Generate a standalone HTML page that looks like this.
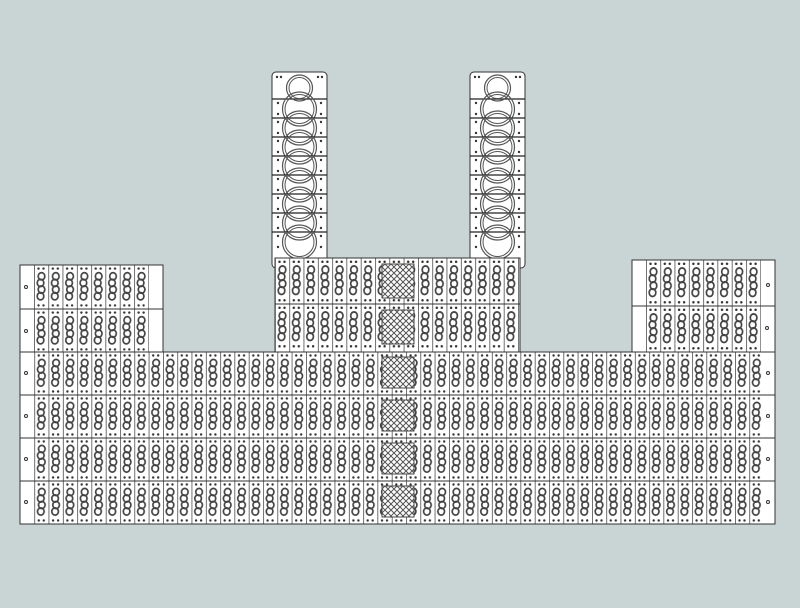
<!DOCTYPE html>
<html><head><meta charset="utf-8"><style>html,body{margin:0;padding:0;background:#c9d4d4;}svg{display:block}</style></head>
<body>
<svg width="800" height="608" viewBox="0 0 800 608" xmlns="http://www.w3.org/2000/svg">
<defs>
  <g id="cell">
    <line x1="0.3" y1="0" x2="0.3" y2="43" stroke="#333" stroke-width="0.8"/>
    <g fill="none" stroke="#444" stroke-width="1.7">
      <ellipse cx="7.5" cy="11" rx="3.3" ry="3.6"/>
      <ellipse cx="6.5" cy="17.5" rx="3.3" ry="3.6"/>
      <ellipse cx="7.5" cy="24" rx="3.3" ry="3.6"/>
      <ellipse cx="6.5" cy="30.5" rx="3.3" ry="3.6"/>
    </g>
    <g fill="#333"><circle cx="4.5" cy="3.5" r="1.2"/><circle cx="9.5" cy="3.5" r="1.2"/><circle cx="4.5" cy="39.5" r="1.2"/><circle cx="9.5" cy="39.5" r="1.2"/></g>
  </g>
  <pattern id="pm" patternUnits="userSpaceOnUse" x="20" y="352" width="14.3" height="43" viewBox="0 0 14.3 43"><use href="#cell"/></pattern>
  <pattern id="pl" patternUnits="userSpaceOnUse" x="34" y="265" width="14.3" height="44" viewBox="0 0 14.3 43" preserveAspectRatio="none"><use href="#cell"/></pattern>
  <pattern id="pc" patternUnits="userSpaceOnUse" x="275" y="258" width="14.3" height="46" viewBox="0 0 14.3 43" preserveAspectRatio="none"><use href="#cell"/></pattern>
  <pattern id="pr" patternUnits="userSpaceOnUse" x="646" y="260" width="14.3" height="46" viewBox="0 0 14.3 43" preserveAspectRatio="none"><use href="#cell"/></pattern>
  <pattern id="lat" patternUnits="userSpaceOnUse" x="385" y="0" width="6" height="6">
    <rect width="6" height="6" fill="#fff"/>
    <path d="M0 0L6 6M6 0L0 6" stroke="#555" stroke-width="1"/>
  </pattern>
  <g id="ring">
    <line x1="0" y1="0" x2="55" y2="0" stroke="#222" stroke-width="1.2"/>
    <circle cx="27.5" cy="10" r="17" fill="none" stroke="#555" stroke-width="1.2"/>
    <circle cx="27.5" cy="10" r="14.5" fill="none" stroke="#555" stroke-width="1"/>
    <circle cx="6" cy="4" r="1.2" fill="#333"/><circle cx="49" cy="4" r="1.2" fill="#333"/>
    <circle cx="6" cy="15" r="1.2" fill="#333"/><circle cx="49" cy="15" r="1.2" fill="#333"/>
  </g>
  <g id="strip">
    <rect x="0" y="0" width="55" height="196" rx="4" fill="#fff" stroke="#333" stroke-width="1"/>
    <g fill="#333"><circle cx="5" cy="5" r="1.2"/><circle cx="9" cy="5" r="1.2"/><circle cx="46" cy="5" r="1.2"/><circle cx="50" cy="5" r="1.2"/>
    <circle cx="17" cy="190" r="1.2"/><circle cx="21" cy="190" r="1.2"/><circle cx="34" cy="190" r="1.2"/><circle cx="38" cy="190" r="1.2"/></g>
    <use href="#ring" transform="translate(0,27)"/>
    <use href="#ring" transform="translate(0,46)"/>
    <use href="#ring" transform="translate(0,65)"/>
    <use href="#ring" transform="translate(0,84)"/>
    <use href="#ring" transform="translate(0,103)"/>
    <use href="#ring" transform="translate(0,122)"/>
    <use href="#ring" transform="translate(0,141)"/>
    <use href="#ring" transform="translate(0,160)"/>
    <circle cx="27.5" cy="16" r="13" fill="none" stroke="#555" stroke-width="1.2"/>
    <circle cx="27.5" cy="16" r="10.5" fill="none" stroke="#555" stroke-width="1"/>
  </g>
</defs>
<rect width="800" height="608" fill="#c9d4d4"/>

<use href="#strip" transform="translate(272,72)"/>
<use href="#strip" transform="translate(470,72)"/>

<rect x="20" y="265" width="143" height="88" fill="#fff" stroke="#333"/>
<rect x="34" y="265" width="115" height="88" fill="url(#pl)"/>
<line x1="20" y1="309" x2="163" y2="309" stroke="#333"/>
<circle cx="26" cy="287" r="1.5" fill="none" stroke="#333"/><circle cx="26" cy="331" r="1.5" fill="none" stroke="#333"/>

<rect x="275" y="258" width="245" height="94" fill="#fff" stroke="#333"/>
<rect x="275" y="258" width="245" height="94" fill="url(#pc)"/>
<line x1="275" y1="304" x2="520" y2="304" stroke="#333"/>

<rect x="632" y="260" width="143" height="92" fill="#fff" stroke="#333"/>
<rect x="646" y="260" width="115" height="92" fill="url(#pr)"/>
<line x1="632" y1="306" x2="775" y2="306" stroke="#333"/>
<circle cx="768" cy="285" r="1.5" fill="none" stroke="#333"/><circle cx="767" cy="328" r="1.5" fill="none" stroke="#333"/>

<rect x="20" y="352" width="755" height="172" fill="#fff" stroke="#333"/>
<rect x="34" y="352" width="728" height="172" fill="url(#pm)"/>
<g stroke="#333" stroke-width="1">
<line x1="20" y1="395" x2="775" y2="395"/><line x1="20" y1="438" x2="775" y2="438"/><line x1="20" y1="481" x2="775" y2="481"/>
</g>
<g fill="none" stroke="#333"><circle cx="26" cy="373" r="1.5"/><circle cx="26" cy="416" r="1.5"/><circle cx="26" cy="459" r="1.5"/><circle cx="26" cy="502" r="1.5"/>
<circle cx="768" cy="373" r="1.5"/><circle cx="768" cy="416" r="1.5"/><circle cx="768" cy="459" r="1.5"/><circle cx="768" cy="502" r="1.5"/></g>

<g stroke="#444" stroke-width="1">
  <rect x="382" y="264" width="32" height="34" fill="url(#lat)"/>
  <rect x="382" y="310" width="32" height="34" fill="url(#lat)"/>
  <rect x="382" y="357" width="32" height="31" fill="url(#lat)"/>
  <rect x="382" y="400" width="32" height="31" fill="url(#lat)"/>
  <rect x="382" y="443" width="32" height="31" fill="url(#lat)"/>
  <rect x="382" y="486" width="32" height="31" fill="url(#lat)"/>
</g>
</svg>
</body></html>
